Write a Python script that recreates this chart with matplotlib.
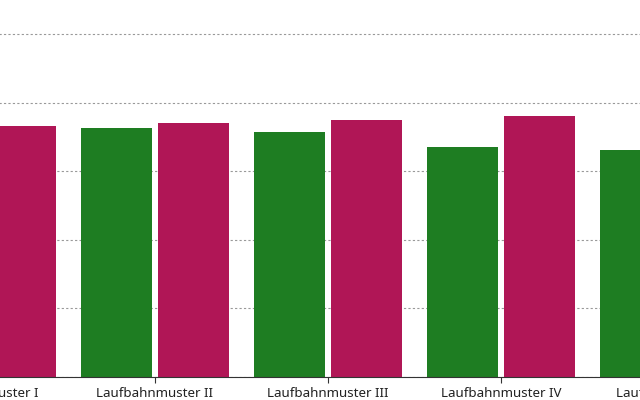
import matplotlib.pyplot as plt
import numpy as np

categories = ['Laufbahnmuster I', 'Laufbahnmuster II', 'Laufbahnmuster III',
              'Laufbahnmuster IV', 'Laufbahnmuster V']
green_vals = [73.0, 72.6, 71.4, 67.1, 66.2]
magenta_vals = [73.2, 74.1, 74.9, 76.1, 77.0]
grid_ticks = [0, 20, 40, 60, 80, 100]

plt.rcParams['font.family'] = ['Noto Sans', 'DejaVu Sans']

fig = plt.figure(figsize=(6.4, 4), dpi=100)
# axes run past both figure edges, the chart is shown cropped
step = 173.0
x0 = -18.0
ax = fig.add_axes([(x0 - 0.5 * step) / 640, 23 / 400, 5 * step / 640, 377 / 400])

x = np.arange(len(categories))
w = 0.41
ax.bar(x - 0.22, green_vals, w, color='#1e7d22', zorder=2)
ax.bar(x + 0.22, magenta_vals, w, color='#b01656', zorder=2)

ax.set_xticks(x)
ax.set_xticklabels(categories, fontsize=9.6, color='#222222')
ax.set_yticks(grid_ticks)
ax.set_yticklabels([])
ax.set_xlim(-0.5, 4.5)
ax.set_ylim(0, 109.9)
ax.tick_params(axis='y', length=0)
ax.tick_params(axis='x', length=4, width=0.8, color='#333333', pad=3)
ax.yaxis.grid(True, linestyle=(0, (2, 2)), color='#999999', linewidth=0.8, zorder=0)

for s in ['top', 'left', 'right']:
    ax.spines[s].set_visible(False)
ax.spines['bottom'].set_color('#333333')
ax.spines['bottom'].set_zorder(3)

fig.savefig('out.png', dpi=100)
